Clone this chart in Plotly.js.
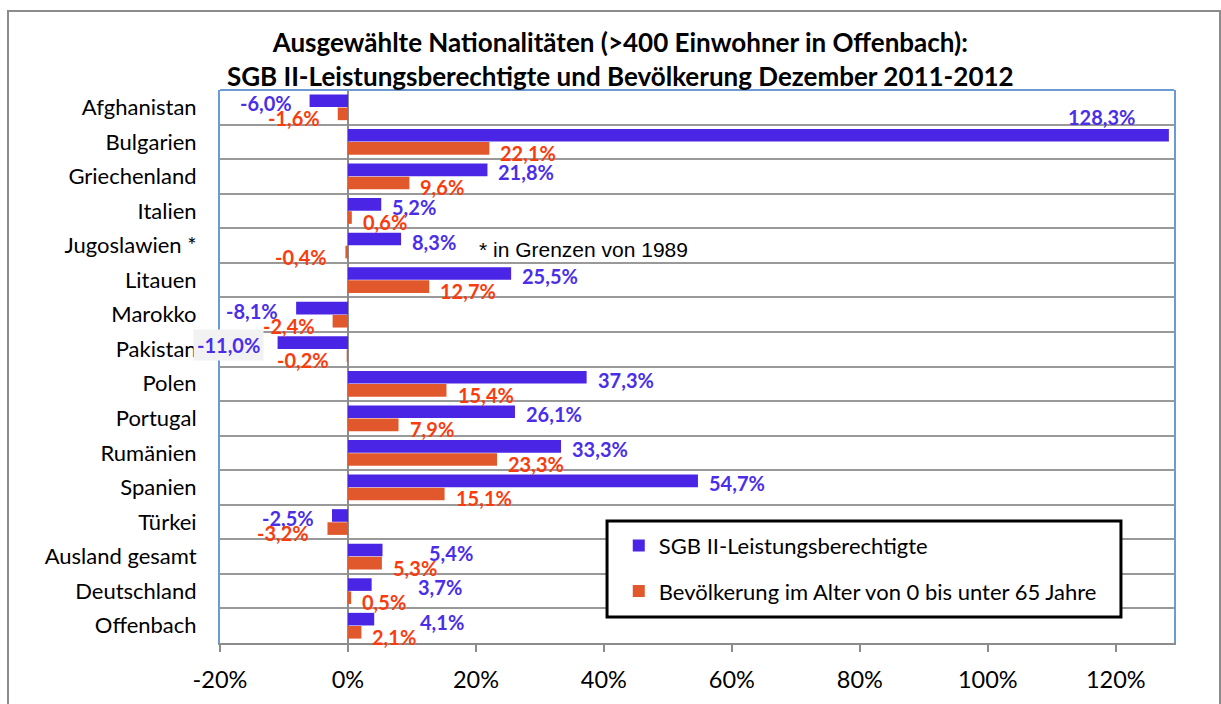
<!DOCTYPE html>
<html>
<head>
<meta charset="utf-8">
<script src="https://cdn.plot.ly/plotly-3.0.1.min.js"></script>
<style>
  body { margin: 0; background: #fff; }
  #plot1 { position: absolute; left: 0; top: 0; width: 1221px; height: 704px; }
  #frame { position: absolute; left: 7px; top: 10px; width: 1210px; height: 720px;
           border: 2px solid #8c8c8c; pointer-events: none; }
</style>
</head>
<body>
<div id="plot1"></div>
<div id="frame"></div>
<script>
// categories (top to bottom)
let nations = ['Afghanistan', 'Bulgarien', 'Griechenland', 'Italien', 'Jugoslawien *',
               'Litauen', 'Marokko', 'Pakistan', 'Polen', 'Portugal', 'Rumänien',
               'Spanien', 'Türkei', 'Ausland gesamt', 'Deutschland', 'Offenbach'];

// change in % December 2011-2012
let sgbChange = [-6.0, 128.3, 21.8, 5.2, 8.3, 25.5, -8.1, -11.0, 37.3, 26.1, 33.3,
                 54.7, -2.5, 5.4, 3.7, 4.1];
let popChange = [-1.6, 22.1, 9.6, 0.6, -0.4, 12.7, -2.4, -0.2, 15.4, 7.9, 23.3,
                 15.1, -3.2, 5.3, 0.5, 2.1];

let xTicks = [-20, 0, 20, 40, 60, 80, 100, 120];

let blue = '#4a25e6', orange = '#e0582c';
let blueText = '#4b2ee8', orangeText = '#f93c0e';
let font = 'Lato, "Open Sans", sans-serif';

function pct(v) {
    return v.toFixed(1).replace('.', ',') + '%';
}

// trace for SGB II
let trace1 = {
    y: nations,
    x: sgbChange,
    type: 'bar',
    orientation: 'h',
    name: 'SGB II-Leistungsberechtigte',
    legendgroup: 'a',
    marker: {color: blue},
    hoverinfo: 'skip'
};

// trace for population
let trace2 = {
    y: nations,
    x: popChange,
    type: 'bar',
    orientation: 'h',
    name: 'Bevölkerung im Alter von 0 bis unter 65 Jahre',
    legendgroup: 'b',
    marker: {color: orange},
    hoverinfo: 'skip'
};

var data = [trace1, trace2];

// data labels next to the bar ends
let labels = [];
function addLabels(values, other, color, dy, pushRight) {
    values.forEach(function (v, i) {
        let big = v > 100;
        // blue labels move right when the two positive bars are nearly equal
        let crowded = pushRight && v > 0 && other[i] > 0 && v - other[i] < 4;
        labels.push({
            x: v, y: nations[i], xref: 'x', yref: 'y',
            text: pct(v), showarrow: false,
            font: {family: font, size: 20, color: color, weight: 'bold'},
            xanchor: (v < 0 || big) ? 'right' : 'left',
            xshift: big ? -30 : (v < 0 ? -14 : (crowded ? 42 : 7)),
            yshift: big ? 25 : dy,
            bgcolor: v < -10 ? '#f2f2f2' : 'rgba(0,0,0,0)',
            borderpad: 3
        });
    });
}
addLabels(sgbChange, popChange, blueText, 4, true);
addLabels(popChange, sgbChange, orangeText, -11, false);

labels.push({
    xref: 'paper', yref: 'paper', x: 0.269, y: 0.711,
    xanchor: 'left', yanchor: 'middle',
    text: '* in Grenzen von 1989', showarrow: false,
    font: {family: '"Liberation Sans", Arial, sans-serif', size: 21, color: '#000'}
});

var layout = {
    width: 1221,
    height: 704,
    margin: {l: 220, r: 47, t: 90, b: 61},
    paper_bgcolor: '#fff',
    plot_bgcolor: '#fff',
    font: {family: font, color: '#000'},
    title: {
        text: 'Ausgewählte Nationalitäten (>400 Einwohner in Offenbach):<br>SGB II-Leistungsberechtigte und Bevölkerung Dezember 2011-2012',
        font: {family: font, size: 26, weight: 'bold', color: '#000'},
        xref: 'container', x: 0.508, xanchor: 'center',
        yref: 'container', y: 0.926, yanchor: 'top',
        automargin: false
    },
    barmode: 'group',
    bargap: 0.24,
    bargroupgap: 0.04,
    xaxis: {
        range: [-20, 129.1],
        automargin: false,
        tickvals: xTicks,
        ticktext: xTicks.map(function (t) { return t + '%'; }),
        tickfont: {family: font, size: 23.5, color: '#000'},
        ticks: 'outside', ticklen: 7, tickwidth: 2, tickcolor: '#8c8c8c',
        ticklabelstandoff: 8,
        showgrid: false,
        zeroline: true, zerolinecolor: '#8c8c8c', zerolinewidth: 2,
        showline: true, linecolor: '#8c8c8c', linewidth: 2
    },
    yaxis: {
        range: [nations.length - 0.5, -0.5],
        automargin: false,
        tickson: 'boundaries',
        ticks: '',
        showgrid: true, gridcolor: '#999', gridwidth: 2,
        tickfont: {family: font, size: 22, color: '#000'},
        ticklabelstandoff: 17,
        showline: true, mirror: true, linecolor: '#6b9bd2', linewidth: 2
    },
    showlegend: true,
    legend: {
        x: 0.418, y: 0.214, xanchor: 'left', yanchor: 'top',
        bgcolor: 'rgba(0,0,0,0)', borderwidth: 0,
        traceorder: 'grouped', tracegroupgap: 14,
        font: {family: font, size: 22, color: '#000'}
    },
    shapes: [
        // legend box
        {type: 'rect', xref: 'paper', yref: 'paper', x0: 0.4057, x1: 0.9444, y0: 0.047, y1: 0.2206,
         line: {color: '#000', width: 3}, fillcolor: '#fff', layer: 'above'},
        // top border of the plot area
        {type: 'line', xref: 'paper', yref: 'paper', x0: 0, x1: 1, y0: 1, y1: 1,
         line: {color: '#6b9bd2', width: 2}, layer: 'above'}
    ],
    annotations: labels
};

Plotly.newPlot('plot1', data, layout, {staticPlot: true});
</script>
</body>
</html>
